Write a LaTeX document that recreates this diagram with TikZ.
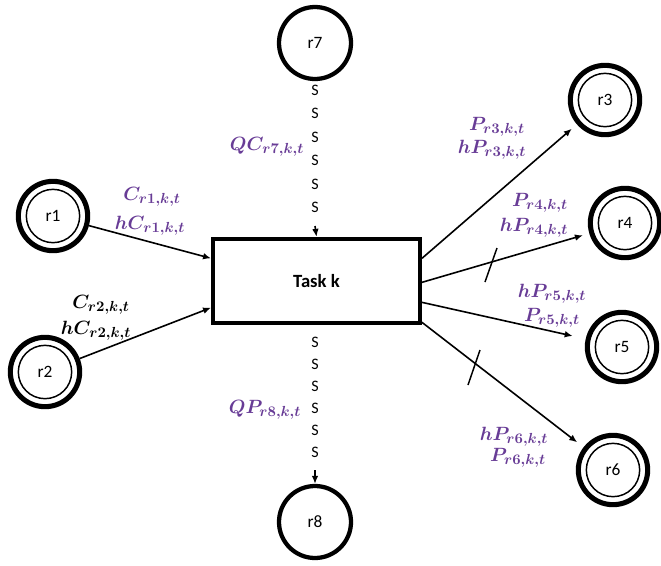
\documentclass[tikz,border=0pt]{standalone}
\usepackage{fontspec}
\setsansfont{Carlito}
\DeclareMathSizes{15}{15}{11}{9}
\usetikzlibrary{arrows.meta}
\definecolor{lblpurple}{RGB}{104,60,150}
\begin{document}
\begin{tikzpicture}[x=0.75pt,y=-0.75pt,
  sc/.style={circle,draw,line width=3.2pt,minimum size=54pt,inner sep=0pt,font=\sffamily\fontsize{13}{15}\selectfont},
  dc/.style={circle,draw,line width=3.8pt,minimum size=52pt,inner sep=0pt,font=\sffamily\fontsize{13}{15}\selectfont,
    path picture={\draw[line width=1.1pt] (path picture bounding box.center) circle (20pt);}},
  taskbox/.style={draw,line width=3.2pt,minimum width=155pt,minimum height=63pt,inner sep=0pt,font=\sffamily\bfseries\fontsize{14}{16}\selectfont},
  arr/.style={line width=1.2pt,-{Latex[length=6pt,width=5pt]}},
  tickmark/.style={line width=1.1pt},
  lbl/.style={text=lblpurple,inner sep=0pt,font=\fontsize{15}{17}\selectfont\boldmath},
  lblk/.style={text=black,inner sep=0pt,font=\fontsize{15}{17}\selectfont\boldmath},
  ess/.style={inner sep=0pt,font=\sffamily\fontsize{12}{13}\selectfont}]
\useasboundingbox (0,0) rectangle (661,565);
% nodes
\node[taskbox] (task) at (316.5,281) {Task k};
\node[sc] (r7) at (315,43) {r7};
\node[sc] (r8) at (315,522) {r8};
\node[dc] (r1) at (53,216) {r1};
\node[dc] (r2) at (45,372) {r2};
\node[dc] (r3) at (605,100) {r3};
\node[dc] (r4) at (625,223) {r4};
\node[dc] (r5) at (622,347) {r5};
\node[dc] (r6) at (613,470) {r6};
% connectors
\draw[arr] (r1) -- ([yshift=17pt]task.west);
\draw[arr] (r2) -- ([yshift=-20pt]task.west);
\draw[arr,shorten >=5pt] ([yshift=17pt]task.east) -- (r3);
\draw[arr,shorten >=5pt] ([yshift=-1pt]task.east) -- (r4);
\draw[arr,shorten >=10pt] ([yshift=-16pt]task.east) -- (r5);
\draw[arr,shorten >=6pt] ([yshift=-31pt]task.east) -- (r6);
% tick marks
\draw[tickmark] (485,282) -- (497,248);
\draw[tickmark] (480,350) -- (468,385);
% S-lines
\foreach \i in {0,...,5} {\node[ess] at (315,{90+23.5*\i}) {S};}
\foreach \i in {0,...,5} {\node[ess] at (315,{342+22*\i}) {S};}
\coordinate (a7) at (315,226);
\draw[arr] (a7) -- (task.north);
\coordinate (a8) at (315,470);
\draw[arr] (a8) -- (r8.north);
% labels
\node[lbl] at (152,197) {$C_{r1,k,t}$};
\node[lbl] at (150,226) {$hC_{r1,k,t}$};
\node[lblk] at (101,305) {$C_{r2,k,t}$};
\node[lblk] at (96,331) {$hC_{r2,k,t}$};
\node[lbl] at (267,147) {$QC_{r7,k,t}$};
\node[lbl] at (265,410) {$QP_{r8,k,t}$};
\node[lbl] at (497,127) {$P_{r3,k,t}$};
\node[lbl] at (492,150) {$hP_{r3,k,t}$};
\node[lbl] at (540,203) {$P_{r4,k,t}$};
\node[lbl] at (534,228) {$hP_{r4,k,t}$};
\node[lbl] at (552,294) {$hP_{r5,k,t}$};
\node[lbl] at (552,318) {$P_{r5,k,t}$};
\node[lbl] at (514,437) {$hP_{r6,k,t}$};
\node[lbl] at (518,458) {$P_{r6,k,t}$};
\end{tikzpicture}
\end{document}
